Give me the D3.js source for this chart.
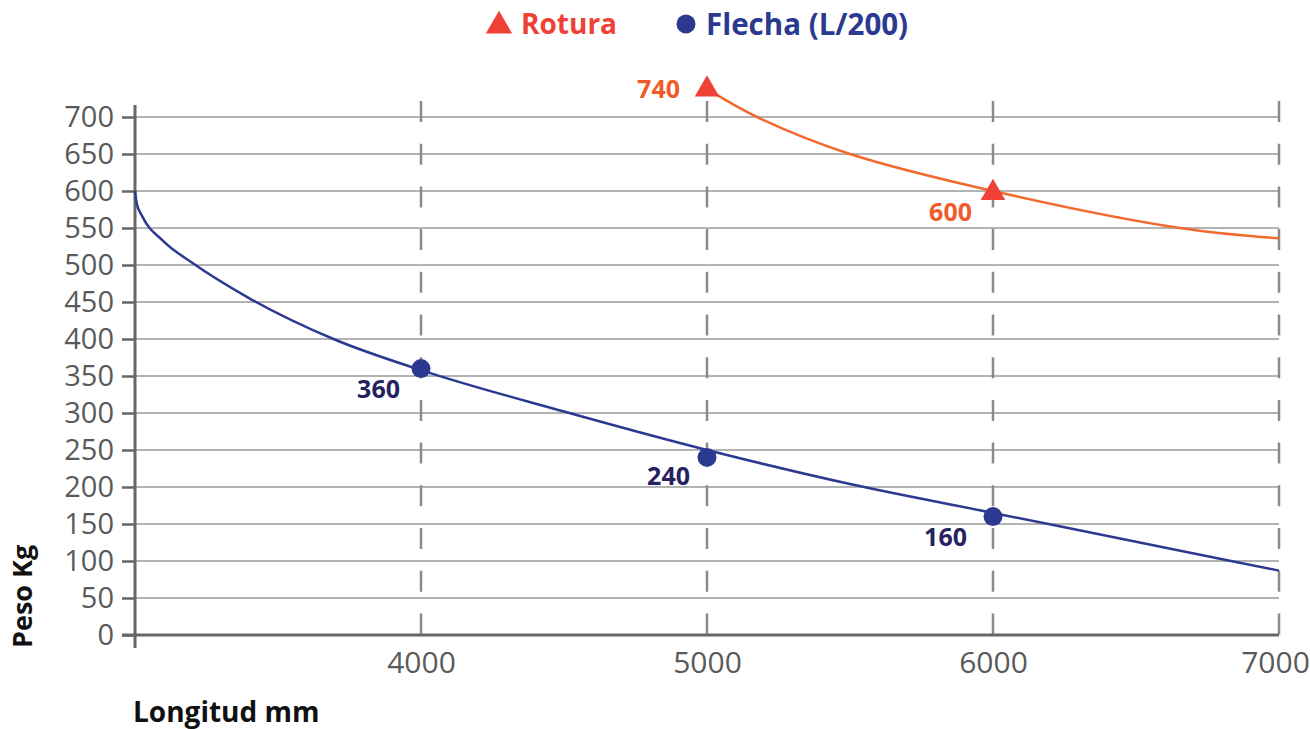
<!DOCTYPE html>
<html>
<head>
<meta charset="utf-8">
<script src="https://cdn.jsdelivr.net/npm/d3@7"></script>
<style>
  html, body { margin: 0; padding: 0; background: #fff; }
  svg { display: block; font-family: "Open Sans", "Noto Sans", sans-serif; }
</style>
</head>
<body>
<svg id="chart" width="1310" height="729"></svg>
<script>
// ---- data ----
const xTicks = [4000, 5000, 6000, 7000];
const yTicks = [0, 50, 100, 150, 200, 250, 300, 350, 400, 450, 500, 550, 600, 650, 700];

// Flecha (L/200) curve
const flechaCurveX = [3000, 3006, 3025, 3100, 3200, 3400, 3700, 4000, 4500, 5000, 5500, 6000, 6500, 7000];
const flechaCurveY = [600, 583, 566, 532, 503, 455, 399, 358, 302, 250, 204, 165, 126, 87];
// Rotura curve
const roturaCurveX = [5000, 5175, 5500, 6000, 6654, 7000];
const roturaCurveY = [738, 700, 650, 600, 550, 536];

// marked points
const flechaPtsX = [4000, 5000, 6000];
const flechaPtsY = [360, 240, 160];
const roturaPtsX = [5000, 6000];
const roturaPtsY = [740, 600];

const legendLabels = ["Rotura", "Flecha (L/200)"];
const yTitle = "Peso Kg";
const xTitle = "Longitud mm";

// ---- drawing ----
const svg = d3.select("#chart");
const x = d3.scaleLinear().domain([3000, 7000]).range([135, 1279]);
const y = d3.scaleLinear().domain([0, 700]).range([635, 117]);

const cRed = "#ef4136", cOrange = "#f15a29", cLine = "#f26a2e";
const cBlue = "#2b3990", cNavy = "#262262";

// horizontal grid
svg.append("g").selectAll("line").data(yTicks.filter(d => d > 0)).join("line")
  .attr("x1", x(3000)).attr("x2", x(7000))
  .attr("y1", d => y(d)).attr("y2", d => y(d))
  .attr("stroke", "#9a9a9a").attr("stroke-width", 1.5);

// vertical dashed grid
svg.append("g").selectAll("line").data(xTicks).join("line")
  .attr("x1", d => x(d)).attr("x2", d => x(d))
  .attr("y1", 101).attr("y2", y(0))
  .attr("stroke", "#8a8a8a").attr("stroke-width", 2.5)
  .attr("stroke-dasharray", "21,21.7");

// y axis
const yAxis = d3.axisLeft(y).tickValues(yTicks).tickSize(13).tickPadding(8);
const gy = svg.append("g").attr("transform", `translate(${x(3000)},0)`).call(yAxis);
gy.select(".domain").remove();
gy.selectAll(".tick line").attr("stroke", "#666").attr("stroke-width", 2.5);
gy.selectAll(".tick text").attr("fill", "#5a5a5a").attr("font-size", 29)
  .attr("font-family", "'Open Sans', sans-serif");
svg.append("line").attr("x1", x(3000)).attr("x2", x(3000)).attr("y1", 105).attr("y2", 648)
  .attr("stroke", "#666").attr("stroke-width", 3);

// x axis
const xAxis = d3.axisBottom(x).tickValues(xTicks).tickSize(0).tickPadding(17).tickFormat(d3.format("d"));
const gx = svg.append("g").attr("transform", `translate(0,${y(0)})`).call(xAxis);
gx.select(".domain").remove();
gx.selectAll(".tick text").attr("fill", "#5a5a5a").attr("font-size", 30)
  .attr("font-family", "'Open Sans', sans-serif");
gx.selectAll(".tick").filter(d => d === 7000).select("text").attr("dx", -4);
svg.append("line").attr("x1", 122).attr("x2", x(7000)).attr("y1", y(0)).attr("y2", y(0))
  .attr("stroke", "#666").attr("stroke-width", 3);

// curves
const line = d3.line().x(d => x(d[0])).y(d => y(d[1])).curve(d3.curveMonotoneX);
svg.append("path").datum(flechaCurveX.map((v, i) => [v, flechaCurveY[i]]))
  .attr("d", line).attr("fill", "none").attr("stroke", cBlue).attr("stroke-width", 2.5);
svg.append("path").datum(roturaCurveX.map((v, i) => [v, roturaCurveY[i]]))
  .attr("d", d3.line().x(d => x(d[0])).y(d => y(d[1])).curve(d3.curveCatmullRom.alpha(0.5)))
  .attr("fill", "none").attr("stroke", cLine).attr("stroke-width", 2.5);

// points
const fPts = flechaPtsX.map((v, i) => [v, flechaPtsY[i]]);
svg.append("g").selectAll("circle").data(fPts).join("circle")
  .attr("cx", d => x(d[0])).attr("cy", d => y(d[1])).attr("r", 9.5).attr("fill", cBlue);
const rPts = roturaPtsX.map((v, i) => [v, roturaPtsY[i]]);
const tri = d3.symbol().type(d3.symbolTriangle).size(260);
svg.append("g").selectAll("path").data(rPts).join("path")
  .attr("transform", d => `translate(${x(d[0])},${y(d[1]) + 2})`)
  .attr("d", tri).attr("fill", cRed);

// point labels
const lblOff = { 740: [-27, 2], 600: [-21, 21] };
svg.append("g").selectAll("text").data(rPts).join("text")
  .attr("x", d => x(d[0]) + lblOff[d[1]][0]).attr("y", d => y(d[1]) + lblOff[d[1]][1])
  .attr("dy", "0.36em").attr("text-anchor", "end")
  .attr("font-size", 25).attr("font-weight", 700).attr("fill", cOrange)
  .text(d => d[1]);
const fOff = { 360: [-21, 20], 240: [-17, 19], 160: [-26, 20] };
svg.append("g").selectAll("text").data(fPts).join("text")
  .attr("x", d => x(d[0]) + fOff[d[1]][0]).attr("y", d => y(d[1]) + fOff[d[1]][1])
  .attr("dy", "0.36em").attr("text-anchor", "end")
  .attr("font-size", 25).attr("font-weight", 700).attr("fill", cNavy)
  .text(d => d[1]);

// legend
const lg = svg.append("g");
lg.append("path").attr("d", d3.symbol().type(d3.symbolTriangle).size(300)).attr("transform", "translate(499,26)").attr("fill", cRed);
lg.append("text").attr("x", 521).attr("y", 24).attr("dy", "0.36em").attr("font-size", 28).attr("font-weight", 700).attr("fill", cRed).text(legendLabels[0]);
lg.append("circle").attr("cx", 686).attr("cy", 24).attr("r", 9.5).attr("fill", cBlue);
lg.append("text").attr("x", 706).attr("y", 24).attr("dy", "0.36em").attr("font-size", 29.5).attr("font-weight", 700).attr("fill", cBlue).text(legendLabels[1]);

// axis titles
svg.append("text").attr("transform", "translate(32,648) rotate(-90)")
  .attr("font-size", 27).attr("font-weight", 700).attr("fill", "#111").text(yTitle);
svg.append("text").attr("x", 133).attr("y", 722)
  .attr("font-size", 28).attr("font-weight", 700).attr("fill", "#111").text(xTitle);
</script>
</body>
</html>
